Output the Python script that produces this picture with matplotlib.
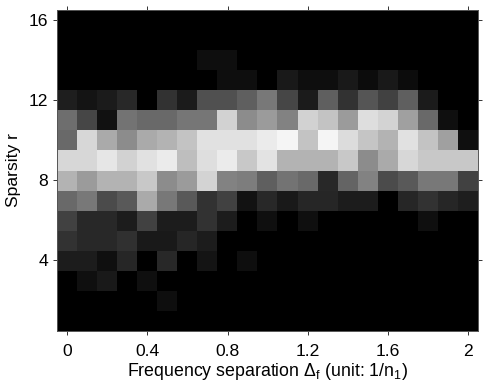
import numpy as np
import matplotlib
matplotlib.use('Agg')
import matplotlib.pyplot as plt

plt.rcParams['font.family'] = ['Liberation Sans']
plt.rcParams['mathtext.fontset'] = 'custom'
plt.rcParams['mathtext.rm'] = 'Liberation Sans'
plt.rcParams['mathtext.it'] = 'Liberation Sans'

# frequency separation 0 .. 2 step 0.1, sparsity 1 .. 16
separation = np.arange(21) / 10
sparsity = np.arange(1, 17)

# grey level per cell, one list per sparsity value
r1 = [0] * 21
r2 = [0, 0, 0, 0, 0, 14, 0, 0, 0, 0, 0, 0, 0, 0, 0, 0, 0, 0, 0, 0, 0]
r3 = [0, 15, 25, 0, 15, 0, 0, 0, 0, 0, 0, 0, 0, 0, 0, 0, 0, 0, 0, 0, 0]
r4 = [28, 28, 15, 38, 0, 40, 0, 20, 0, 14, 0, 0, 0, 0, 0, 0, 0, 0, 0, 0, 0]
r5 = [50, 40, 40, 48, 25, 25, 38, 28, 0, 0, 0, 0, 0, 0, 0, 0, 0, 0, 0, 0, 0]
r6 = [65, 40, 40, 28, 65, 28, 28, 50, 28, 0, 15, 0, 15, 0, 0, 0, 0, 0, 15, 0, 0]
r7 = [105, 120, 75, 90, 170, 120, 90, 50, 65, 18, 40, 25, 38, 38, 28, 28, 0, 38, 50, 38, 30]
r8 = [180, 155, 180, 180, 200, 140, 155, 212, 130, 125, 95, 115, 105, 40, 100, 130, 75, 90, 120, 120, 65]
r9 = [215, 215, 230, 210, 225, 235, 190, 222, 235, 200, 228, 180, 180, 180, 200, 140, 170, 215, 200, 200, 200]
r10 = [105, 215, 170, 140, 170, 180, 195, 225, 225, 225, 235, 245, 195, 245, 220, 197, 180, 225, 195, 160, 15]
r11 = [110, 70, 17, 115, 105, 105, 118, 118, 210, 140, 155, 130, 210, 195, 155, 222, 212, 160, 105, 15, 0]
r12 = [30, 20, 27, 40, 0, 50, 27, 80, 80, 95, 120, 70, 27, 95, 50, 85, 65, 95, 27, 0, 0]
r13 = [0, 0, 0, 0, 0, 0, 0, 0, 14, 14, 0, 25, 14, 14, 25, 12, 25, 12, 0, 0, 0]
r14 = [0, 0, 0, 0, 0, 0, 0, 14, 14, 0, 0, 0, 0, 0, 0, 0, 0, 0, 0, 0, 0]
r15 = [0] * 21
r16 = [0] * 21

grid = np.array([r1, r2, r3, r4, r5, r6, r7, r8, r9, r10, r11, r12, r13, r14, r15, r16])

fig = plt.figure(figsize=(4.84, 3.87), dpi=100)
ax = fig.add_axes([57.4 / 484, 1 - 330.7 / 387, 420.4 / 484, 321 / 387])
ax.imshow(grid, cmap='gray', vmin=0, vmax=255, origin='lower', aspect='auto',
          extent=[-0.05, 2.05, 0.5, 16.5], interpolation='nearest')

ax.set_xticks([0, 0.4, 0.8, 1.2, 1.6, 2])
ax.set_xticklabels(['0', '0.4', '0.8', '1.2', '1.6', '2'])
ax.set_yticks([4, 8, 12, 16])
ax.tick_params(axis='both', direction='out', length=2.8, width=0.7, labelsize=12.6, color='#333333',
               top=True, right=True)
ax.tick_params(axis='x', pad=7)
ax.tick_params(axis='y', pad=4)
for s in ax.spines.values():
    s.set_linewidth(0.7)
    s.set_color('#555555')

ax.set_xlabel(r'Frequency separation $\Delta_{\mathrm{f}}$ (unit: 1/n$_{\mathrm{1}}$)', fontsize=12.8, labelpad=1.5)
ax.set_ylabel('Sparsity r', fontsize=12.6, labelpad=5.5)

fig.savefig('out.png', dpi=100)
